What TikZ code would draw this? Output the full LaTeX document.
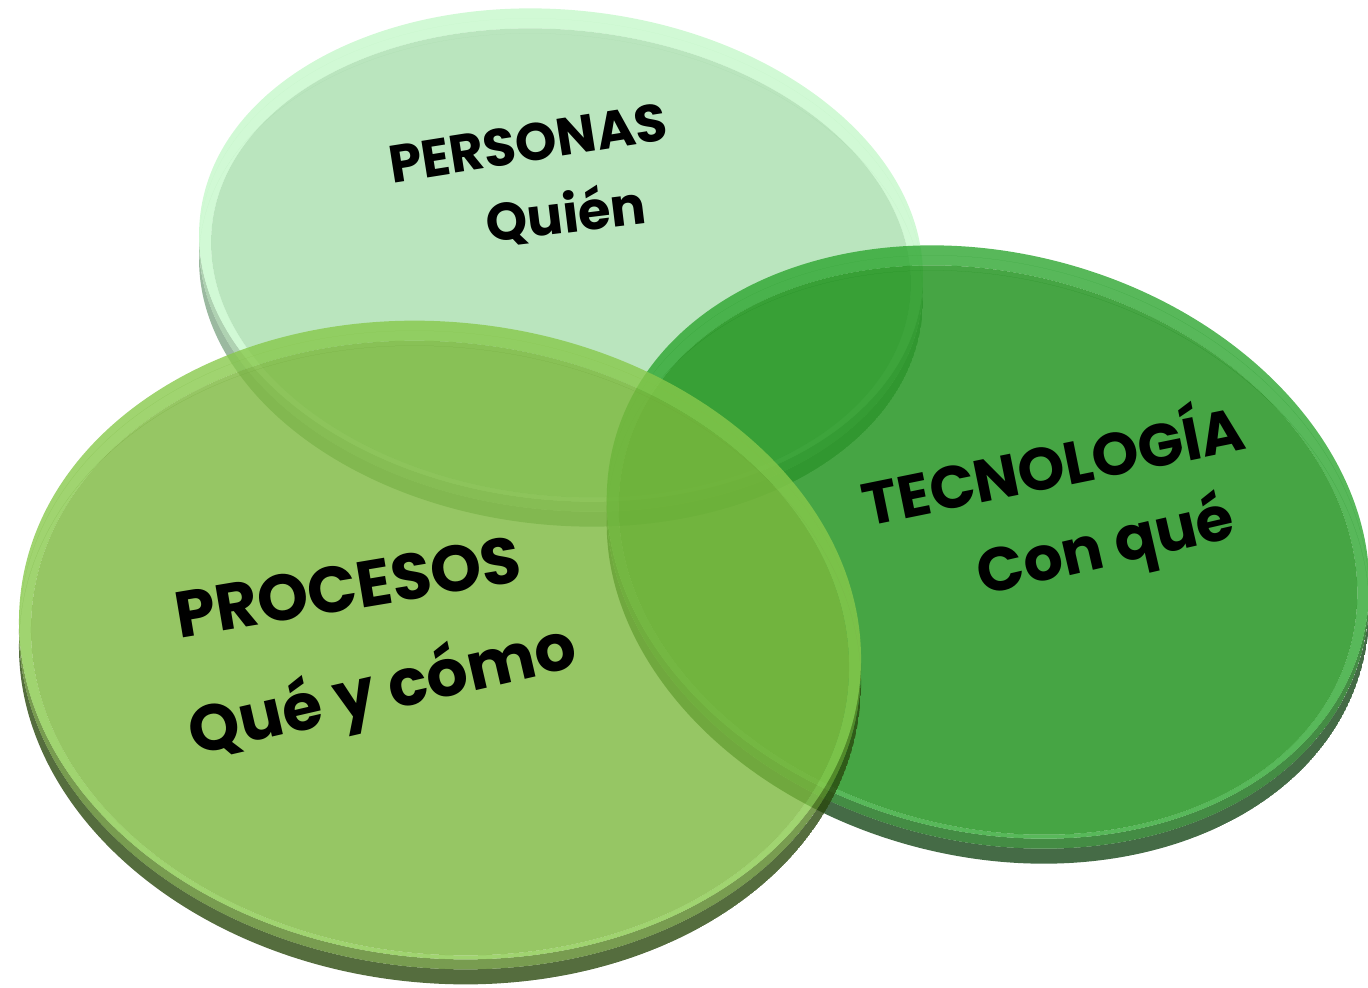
\documentclass[tikz,border=0pt]{standalone}
\usepackage{fontspec}
\setmainfont{Poppins}

\tikzset{
  % colours of each disc: side, edge, rim, face
  per side/.style={fill={rgb,255:red,130;green,168;blue,136}},
  per edge/.style={fill={rgb,255:red,155;green,199;blue,159}},
  per rim/.style={fill={rgb,255:red,198;green,248;blue,203}},
  per face/.style={fill={rgb,255:red,169;green,223;blue,174}},
  tec side/.style={fill={rgb,255:red,22;green,70;blue,24}},
  tec edge/.style={fill={rgb,255:red,21;green,111;blue,21}},
  tec rim/.style={fill={rgb,255:red,46;green,166;blue,49}},
  tec face/.style={fill={rgb,255:red,24;green,143;blue,21}},
  pro side/.style={fill={rgb,255:red,42;green,72;blue,14}},
  pro edge/.style={fill={rgb,255:red,86;green,131;blue,36}},
  pro rim/.style={fill={rgb,255:red,136;green,201;blue,76}},
  pro face/.style={fill={rgb,255:red,124;green,184;blue,61}},
  small text/.style={font=\bfseries\fontsize{15}{18}\selectfont, inner sep=0pt},
  big text/.style={font=\bfseries\fontsize{18.5}{22}\selectfont, inner sep=0pt},
}

\begin{document}
\begin{tikzpicture}[x=0.01cm, y=-0.01cm]

  \useasboundingbox (0,0) rectangle (1368,987);

  % Disc thickness (px)
  \def\D{25} % side
  \def\E{10} % edge

  % Discs: centre / radii / tilt / colour set
  \foreach \cx/\cy/\rx/\ry/\a/\n in {561/255/363/245/-6/per,
                                      988/542/387/289/-15/tec,
                                      440/640/422/318/-6/pro} {
    % side
    \begin{scope}
      \clip (\cx,\cy+\D) circle[x radius=\rx, y radius=\ry, rotate=\a];
      \fill[\n\space side, fill opacity=.8, even odd rule]
        (\cx,\cy+\D) circle[x radius=\rx, y radius=\ry, rotate=\a]
        (\cx,\cy+\E) circle[x radius=\rx, y radius=\ry, rotate=\a];
    \end{scope}
    % edge
    \begin{scope}
      \clip (\cx,\cy+\E) circle[x radius=\rx, y radius=\ry, rotate=\a];
      \fill[\n\space edge, fill opacity=.8, even odd rule]
        (\cx,\cy+\E) circle[x radius=\rx, y radius=\ry, rotate=\a]
        (\cx,\cy) circle[x radius=\rx, y radius=\ry, rotate=\a];
    \end{scope}
    % rim
    \fill[\n\space rim, fill opacity=.8, even odd rule]
      (\cx,\cy) circle[x radius=\rx, y radius=\ry, rotate=\a]
      (\cx,\cy+8) circle[x radius=\rx-12, y radius=\ry-12, rotate=\a];
    % face
    \fill[\n\space face, fill opacity=.8]
      (\cx,\cy+8) circle[x radius=\rx-12, y radius=\ry-12, rotate=\a];
  }

  % Labels
  \node[small text, rotate=9] (personas) at (528,143) {PERSONAS};
  \node[small text, rotate=7] (quien) at (566,214) {Quién};
  \node[big text, font=\bfseries\fontsize{17}{20}\selectfont, rotate=11.5] (tecnologia) at (1052,459) {TECNOLOGÍA};
  \node[big text, font=\bfseries\fontsize{17.5}{20}\selectfont, rotate=13] (conque) at (1106,549) {Con qué};
  \node[big text, rotate=9.5] (procesos) at (348,587) {PROCESOS};
  \node[big text, rotate=13] (queycomo) at (383,693) {Qué y cómo};

\end{tikzpicture}
\end{document}
